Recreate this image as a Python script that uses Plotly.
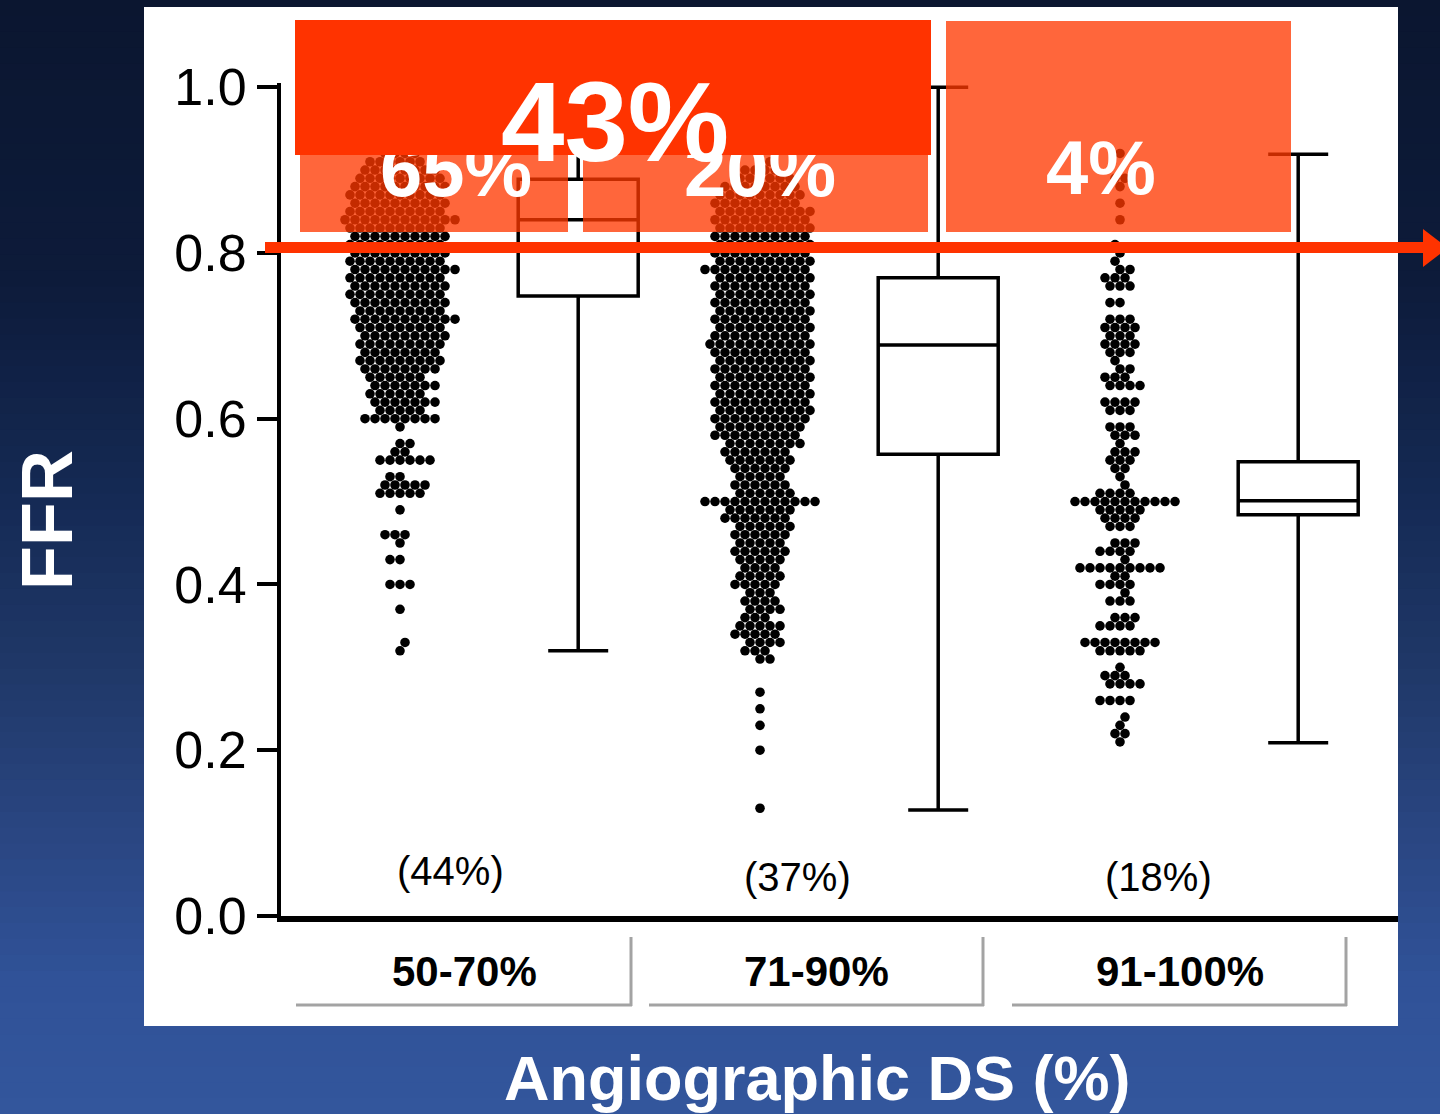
import plotly.graph_objects as go

# ---------------- data ----------------
categories = ["50-70%", "71-90%", "91-100%"]
share_labels = ["(44%)", "(37%)", "(18%)"]
ischemia_labels = ["65%", "20%", "4%"]
overall_label = "43%"
y_tickvals = [0.0, 0.2, 0.4, 0.6, 0.8, 1.0]
y_ticktext = ["0.0", "0.2", "0.4", "0.6", "0.8", "1.0"]

# FFR values and number of lesions at each value (one dot per lesion)
g1_ffr = [0.32, 0.33, 0.37, 0.40, 0.43, 0.45, 0.46, 0.49, 0.51, 0.52,
          0.53, 0.55, 0.56, 0.57, 0.59, 0.60, 0.61, 0.62, 0.63, 0.64,
          0.65, 0.66, 0.67, 0.68, 0.69, 0.70, 0.71, 0.72, 0.73, 0.74,
          0.75, 0.76, 0.77, 0.78, 0.79, 0.80, 0.81, 0.82, 0.83, 0.84,
          0.85, 0.86, 0.87, 0.88, 0.89, 0.90, 0.91, 0.92, 0.93]
g1_n = [1, 1, 1, 3, 2, 1, 3, 1, 5, 5,
        2, 6, 2, 2, 1, 8, 5, 7, 6, 7,
        6, 8, 9, 8, 9, 9, 9, 11, 9, 10,
        10, 10, 10, 11, 10, 10, 10, 10, 10, 12,
        10, 10, 10, 10, 9, 8, 6, 4, 2]

g2_ffr = [0.13, 0.20, 0.23, 0.25, 0.27,
          0.31, 0.32, 0.33, 0.34, 0.35, 0.36, 0.37, 0.38, 0.39, 0.40,
          0.41, 0.42, 0.43, 0.44, 0.45, 0.46, 0.47, 0.48, 0.49, 0.50,
          0.51, 0.52, 0.53, 0.54, 0.55, 0.56, 0.57, 0.58, 0.59, 0.60,
          0.61, 0.62, 0.63, 0.64, 0.65, 0.66, 0.67, 0.68, 0.69, 0.70,
          0.71, 0.72, 0.73, 0.74, 0.75, 0.76, 0.77, 0.78, 0.79, 0.80,
          0.81, 0.82, 0.83, 0.84, 0.85, 0.86, 0.87, 0.88, 0.89, 0.90, 0.91]
g2_n = [1, 1, 1, 1, 1,
        2, 3, 4, 5, 5, 3, 4, 4, 3, 5,
        5, 4, 5, 6, 5, 6, 6, 7, 7, 12,
        6, 6, 5, 6, 7, 7, 8, 9, 9, 10,
        10, 10, 10, 10, 10, 10, 10, 10, 11, 10,
        10, 10, 10, 10, 10, 10, 10, 11, 10, 10,
        10, 10, 10, 10, 10, 9, 9, 8, 6, 4, 2]

g3_ffr = [0.21, 0.22, 0.23, 0.24, 0.26, 0.28, 0.29, 0.30, 0.32, 0.33,
          0.35, 0.36, 0.38, 0.39, 0.40, 0.41, 0.42, 0.43, 0.44, 0.45,
          0.47, 0.48, 0.49, 0.50, 0.51, 0.52, 0.53, 0.54, 0.55, 0.56,
          0.57, 0.58, 0.59, 0.61, 0.62, 0.64, 0.65, 0.66, 0.67, 0.68,
          0.69, 0.70, 0.71, 0.72, 0.74, 0.76, 0.77, 0.78, 0.79, 0.80,
          0.81, 0.84, 0.86, 0.88, 0.89, 0.92]
g3_n = [1, 2, 1, 1, 4, 4, 3, 1, 5, 8,
        4, 3, 3, 1, 4, 2, 9, 1, 4, 3,
        3, 4, 5, 11, 4, 1, 1, 2, 3, 3,
        1, 3, 3, 3, 4, 4, 3, 2, 1, 3,
        4, 3, 4, 3, 2, 3, 3, 2, 1, 1,
        1, 1, 1, 1, 2, 1]

# box plot summaries (min, Q1, median, Q3, max)
box_low = [0.32, 0.128, 0.209]
box_q1 = [0.748, 0.557, 0.484]
box_median = [0.840, 0.689, 0.501]
box_q3 = [0.889, 0.770, 0.548]
box_high = [1.0, 1.0, 0.919]

# ---------------- geometry ----------------
FIG_W, FIG_H = 1440, 1114
PL, PR, PT, PB = 281, 1398, 83, 916
Y_MAX = 1.005
PX_PER_X = 360.0
X0 = 1 - (400 - PL) / PX_PER_X
X1 = X0 + (PR - PL) / PX_PER_X
PX_PER_Y = (PB - PT) / Y_MAX
BOX_SHIFT = 0.495
BOX_WIDTH = 120 / PX_PER_X


def px(x):
    return (x - PL) / (PR - PL)


def py(y):
    return (PB - y) / (PB - PT)


def swarm(values, counts, d=9.3, step=5.0):
    """Beeswarm offsets (in x data units) so dots do not overlap."""
    placed = []
    xs, ys = [], []
    for ri, (v, n) in enumerate(zip(values, counts)):
        sgn = 1 if ri % 2 else -1
        cands = [0.0]
        for i in range(1, 40):
            cands += [sgn * i * step, -sgn * i * step]
        ypx = v * PX_PER_Y
        for _ in range(n):
            for c in cands:
                ok = True
                for (qx, qy) in placed:
                    if abs(qy - ypx) < d and (c - qx) ** 2 + (ypx - qy) ** 2 < d * d:
                        ok = False
                        break
                if ok:
                    break
            placed.append((c, ypx))
            xs.append(c / PX_PER_X)
            ys.append(v)
    return xs, ys


fig = go.Figure()

# box plots
fig.add_trace(go.Box(
    x=[i + 1 + BOX_SHIFT for i in range(3)],
    q1=box_q1, median=box_median, q3=box_q3,
    lowerfence=box_low, upperfence=box_high,
    width=BOX_WIDTH, whiskerwidth=0.5,
    line=dict(color="black", width=3.5), fillcolor="white",
    boxpoints=False, showlegend=False, hoverinfo="skip"))

# dot columns
for gi, (vals, cnts) in enumerate([(g1_ffr, g1_n), (g2_ffr, g2_n), (g3_ffr, g3_n)]):
    dx, dy = swarm(vals, cnts)
    fig.add_trace(go.Scatter(
        x=[gi + 1 + o for o in dx], y=dy, mode="markers",
        marker=dict(size=9.6, color="black", line=dict(width=0)),
        showlegend=False, hoverinfo="skip"))

shapes = []

# background gradient
stops = [(0.00, (11, 22, 48)), (0.25, (13, 27, 58)), (0.45, (21, 42, 85)),
         (0.60, (31, 56, 104)), (0.75, (42, 70, 130)), (0.88, (48, 82, 152)),
         (1.00, (51, 86, 156))]


def grad(t):
    for (t0, c0), (t1, c1) in zip(stops[:-1], stops[1:]):
        if t <= t1:
            f = (t - t0) / (t1 - t0) if t1 > t0 else 0
            return "rgb(%d,%d,%d)" % tuple(round(a + (b - a) * f) for a, b in zip(c0, c1))
    return "rgb(%d,%d,%d)" % stops[-1][1]


N = 70
for i in range(N):
    y0 = FIG_H * i / N
    y1 = FIG_H * (i + 1) / N + 1
    shapes.append(dict(type="rect", xref="paper", yref="paper", layer="below",
                       x0=px(0), x1=px(FIG_W), y0=py(y0), y1=py(y1),
                       fillcolor=grad((i + 0.5) / N), line=dict(width=0)))

# white panel
shapes.append(dict(type="rect", xref="paper", yref="paper", layer="below",
                   x0=px(144), x1=px(1398), y0=py(7), y1=py(1026),
                   fillcolor="white", line=dict(width=0)))

# category cells (gray right and bottom borders)
cells = [(296, 632), (649, 984), (1012, 1347)]
for (a, b) in cells:
    shapes.append(dict(type="line", xref="paper", yref="paper", layer="above",
                       x0=px(a), x1=px(b), y0=py(1005), y1=py(1005),
                       line=dict(color="#a3a3a3", width=3)))
    shapes.append(dict(type="line", xref="paper", yref="paper", layer="above",
                       x0=px(b - 1), x1=px(b - 1), y0=py(937), y1=py(1006),
                       line=dict(color="#a3a3a3", width=3)))

RED = "#ff3300"
TRANS = "rgba(255,56,0,0.77)"

# arrow at the FFR 0.80 cut-off
shapes.append(dict(type="line", xref="paper", yref="paper", layer="above",
                   x0=px(265), x1=px(1426), y0=py(247.5), y1=py(247.5),
                   line=dict(color=RED, width=11)))
shapes.append(dict(type="path", xref="paper", yref="paper", layer="above",
                   path="M %f %f L %f %f L %f %f Z" % (px(1423), py(229), px(1448), py(248),
                                                     px(1423), py(267)),
                   fillcolor=RED, line=dict(width=0)))

# translucent rectangles
for (a, b, t, bt) in [(300, 568, 155, 232), (583, 928, 155, 232), (946, 1291, 21, 232)]:
    shapes.append(dict(type="rect", xref="paper", yref="paper", layer="above",
                       x0=px(a), x1=px(b), y0=py(bt), y1=py(t),
                       fillcolor=TRANS, line=dict(width=0)))

# per-group ischemia labels (below the big red box)
for lab, cx in zip(ischemia_labels[:2], [456, 760]):
    shapes.append(dict(type="rect", xref="paper", yref="paper", layer="above",
                       x0=px(cx - 90), x1=px(cx + 90), y0=py(202), y1=py(122),
                       fillcolor="rgba(0,0,0,0)", line=dict(width=0),
                       label=dict(text="<b>%s</b>" % lab, textposition="middle center",
                                  font=dict(family="Liberation Sans, Arial, sans-serif",
                                            size=76, color="white"))))

# opaque red box
shapes.append(dict(type="rect", xref="paper", yref="paper", layer="above",
                   x0=px(295), x1=px(931), y0=py(155), y1=py(20),
                   fillcolor=RED, line=dict(width=0)))

FONT = "Liberation Sans, Arial, Helvetica, sans-serif"
ann = []
ann.append(dict(text="<b>%s</b>" % overall_label, x=px(615), y=py(122), xref="paper", yref="paper",
                showarrow=False, xanchor="center", yanchor="middle",
                font=dict(family=FONT, size=114, color="white")))
ann.append(dict(text="<b>%s</b>" % ischemia_labels[2], x=px(1101), y=py(167), xref="paper", yref="paper",
                showarrow=False, xanchor="center", yanchor="middle",
                font=dict(family=FONT, size=76, color="white")))
for lab, cx, cy in zip(share_labels, [450, 797, 1158], [871, 877, 877]):
    ann.append(dict(text=lab, x=px(cx), y=py(cy), xref="paper", yref="paper",
                    showarrow=False, xanchor="center", yanchor="middle",
                    font=dict(family=FONT, size=40, color="black")))
for lab, (a, b) in zip(categories, cells):
    ann.append(dict(text="<b>%s</b>" % lab, x=px((a + b) / 2), y=py(971), xref="paper", yref="paper",
                    showarrow=False, xanchor="center", yanchor="middle",
                    font=dict(family=FONT, size=42, color="black")))
ann.append(dict(text="<b>FFR</b>", x=px(47), y=py(520), xref="paper", yref="paper",
                showarrow=False, textangle=-90, xanchor="center", yanchor="middle",
                font=dict(family=FONT, size=72, color="white")))
ann.append(dict(text="<b>Angiographic DS (%)</b>", x=px(817), y=py(1078), xref="paper", yref="paper",
                showarrow=False, xanchor="center", yanchor="middle",
                font=dict(family=FONT, size=63, color="white")))

fig.update_layout(
    width=FIG_W, height=FIG_H, autosize=False,
    margin=dict(l=PL, r=FIG_W - PR, t=PT, b=FIG_H - PB, pad=0),
    paper_bgcolor="#0b1630", plot_bgcolor="rgba(0,0,0,0)",
    shapes=shapes, annotations=ann, showlegend=False,
    xaxis=dict(range=[X0, X1], showline=True, linewidth=6, linecolor="black",
               showticklabels=False, ticks="", showgrid=False, zeroline=False, fixedrange=True),
    yaxis=dict(range=[0, Y_MAX], showline=True, linewidth=4, linecolor="black",
               ticks="outside", ticklen=20, tickwidth=4, tickcolor="black",
               tickvals=y_tickvals, ticktext=y_ticktext,
               tickfont=dict(family=FONT, size=52, color="black"),
               showgrid=False, zeroline=False, fixedrange=True),
)

fig.write_html(
    "out.html",
    config={"displayModeBar": False},
    post_script="document.body.style.margin='0';document.body.style.padding='0';"
                "document.body.style.background='#0b1630';document.body.style.overflow='hidden';",
)
